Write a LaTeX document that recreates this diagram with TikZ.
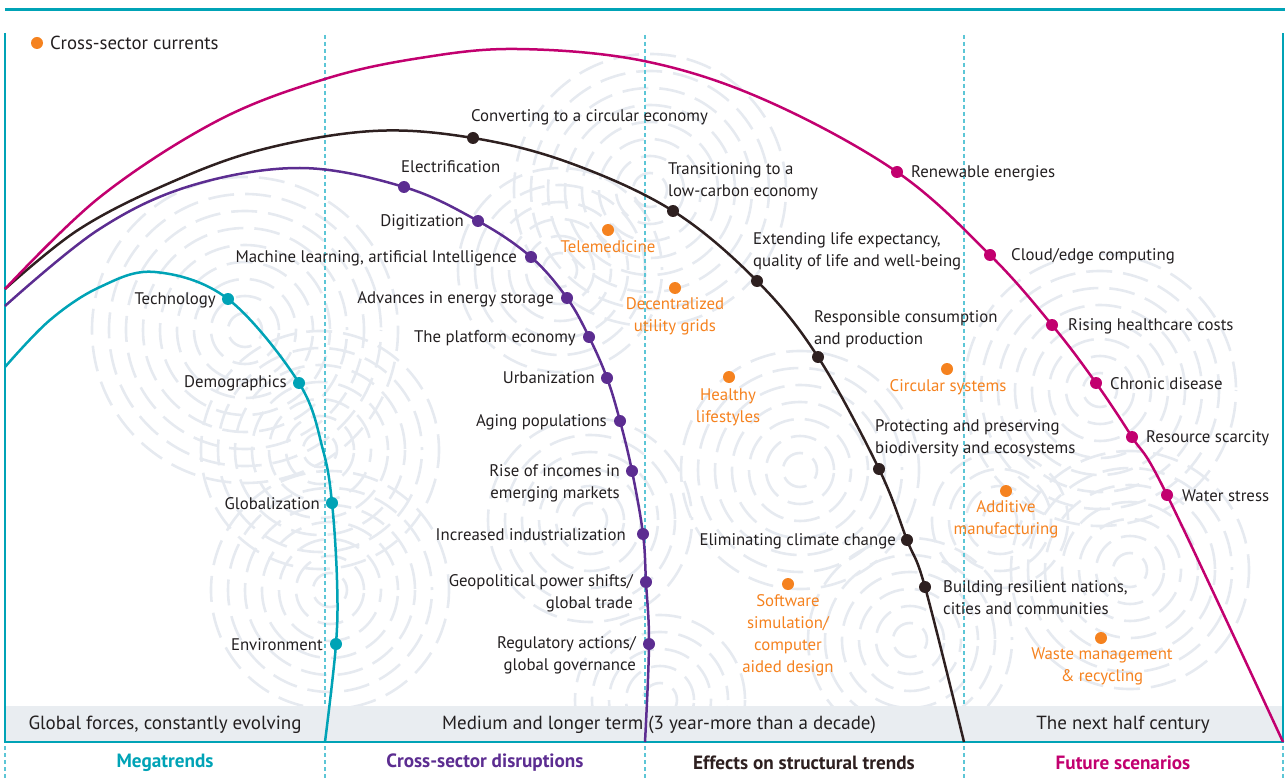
\documentclass[tikz,border=0pt]{standalone}
\usepackage{fontspec}
\setmainfont{PT Sans}
\definecolor{megateal}{HTML}{00A3B6}
\definecolor{disrpurple}{HTML}{5C2D91}
\definecolor{structdark}{HTML}{2E2020}
\definecolor{futuremag}{HTML}{C2006F}
\definecolor{currorange}{HTML}{F5821F}
\definecolor{labelgray}{HTML}{231F20}
\definecolor{bandgray}{HTML}{E9EDF1}
\definecolor{printgray}{HTML}{E6EAF0}
\definecolor{divcyan}{HTML}{5CC6D6}
\tikzset{
  lbl/.style={font=\fontsize{16.8}{22}\selectfont, text=labelgray, inner sep=0pt},
  currlbl/.style={lbl, text=currorange, align=center},
  dotmark/.style={circle, fill=#1, inner sep=0pt, minimum size=12pt},
  trend/.style={line width=2.5pt, #1},
  fprint/.style={printgray, line width=2.6pt, dash pattern=on 26pt off 11pt},
  divider/.style={divcyan, line width=1.2pt, dash pattern=on 4pt off 3pt},
  headlbl/.style={font=\fontsize{19.2}{22}\selectfont\bfseries, inner sep=0pt},
  bandlbl/.style={font=\fontsize{19}{22}\selectfont, text=labelgray, inner sep=0pt}
}
\begin{document}
\begin{tikzpicture}[x=1pt, y=-1pt]
\useasboundingbox (0,0) rectangle (1285,778);
% Huellas de fondo
\begin{scope}
  \clip (5,12) rectangle (1283,706);
  \foreach \cx/\cy/\n in {245/330/9, 320/450/7, 330/590/7, 650/190/8, 560/270/6, 590/520/6, 800/470/7, 910/640/6, 1100/390/8, 1130/570/7, 660/700/5, 1000/520/4} {
    \foreach \i in {1,...,\n} {
      \pgfmathsetmacro{\ph}{mod(\i*17,37)}
      \draw[fprint, dash phase=\ph pt] (\cx,\cy) circle[radius=\i*17];
    }
  }
\end{scope}
% Marco y banda inferior
\fill[bandgray] (5,706) rectangle (1283,742);
\draw[megateal, line width=3pt] (5,10) -- (1285,10);
\draw[megateal, line width=2.5pt] (5,33) -- (5,742) -- (1283,742) -- (1283,33);
% Divisiones
\foreach \x in {325,645,964} \draw[divider] (\x,35) -- (\x,706);
\foreach \x in {5,325,645,964,1283} \draw[divider] (\x,746) -- (\x,778);
% Leyenda
\node[dotmark=currorange] (legdot) at (37,43) {};
\node[lbl, font=\fontsize{18.8}{22}\selectfont, anchor=west] (legtxt) at (50,43) {Cross-sector currents};
% Megatrends
\node[dotmark=megateal] (tech) at (228,299) {};
\node[dotmark=megateal] (demo) at (299,383) {};
\node[dotmark=megateal] (glob) at (332,503) {};
\node[dotmark=megateal] (envi) at (336,644) {};
\draw[trend=megateal] plot[smooth, tension=0.6] coordinates {(5,367) (50,320) (100,287) (155,272) (tech.center) (demo.center) (323,450) (glob.center) (337,580) (envi.center) (325,742)};
\node[lbl, anchor=east] at (216,300) {Technology};
\node[lbl, anchor=east] at (287,383) {Demographics};
\node[lbl, anchor=east] at (320,504) {Globalization};
\node[lbl, anchor=east] at (323,645) {Environment};
% Cross-sector disruptions
\node[dotmark=disrpurple] (elec) at (404,187) {};
\node[dotmark=disrpurple] (digi) at (478,221) {};
\node[dotmark=disrpurple] (mlai) at (531,257) {};
\node[dotmark=disrpurple] (stor) at (567,298) {};
\node[dotmark=disrpurple] (plat) at (589,337) {};
\node[dotmark=disrpurple] (urba) at (607,378) {};
\node[dotmark=disrpurple] (agin) at (620,421) {};
\node[dotmark=disrpurple] (inco) at (632,471) {};
\node[dotmark=disrpurple] (indu) at (643,534) {};
\node[dotmark=disrpurple] (geop) at (646,582) {};
\node[dotmark=disrpurple] (regu) at (649,644) {};
\draw[trend=disrpurple] plot[smooth, tension=0.6] coordinates {(5,306) (98,230) (190,186) (300,168) (elec.center) (digi.center) (mlai.center) (stor.center) (plat.center) (urba.center) (agin.center) (inco.center) (indu.center) (geop.center) (regu.center) (645,742)};
\node[lbl, anchor=west] at (401,167) {Electrification};
\node[lbl, anchor=east] at (464,222) {Digitization};
\node[lbl, anchor=east] at (517,258) {Machine learning, artificial Intelligence};
\node[lbl, anchor=east] at (554,299) {Advances in energy storage};
\node[lbl, anchor=east] at (576,338) {The platform economy};
\node[lbl, anchor=east] at (595,378) {Urbanization};
\node[lbl, anchor=east] at (607,422) {Aging populations};
\node[lbl, anchor=east, align=right] at (620,483) {Rise of incomes in\\emerging markets};
\node[lbl, anchor=east] at (626,535) {Increased industrialization};
\node[lbl, anchor=east, align=right] at (633,593) {Geopolitical power shifts/\\global trade};
\node[lbl, anchor=east, align=right] at (636,655) {Regulatory actions/\\global governance};
% Effects on structural trends
\node[dotmark=structdark] (circ) at (473,138) {};
\node[dotmark=structdark] (lowc) at (673,211) {};
\node[dotmark=structdark] (life) at (757,281) {};
\node[dotmark=structdark] (resp) at (818,357) {};
\node[dotmark=structdark] (biod) at (879,469) {};
\node[dotmark=structdark] (clim) at (907,540) {};
\node[dotmark=structdark] (resi) at (925,587) {};
\draw[trend=structdark] plot[smooth, tension=0.6] coordinates {(5,289) (78,230) (165,185) (260,150) (373,131) (circ.center) (570,163) (lowc.center) (life.center) (resp.center) (biod.center) (clim.center) (resi.center) (964,742)};
\node[lbl, anchor=west] at (471,117) {Converting to a circular economy};
\node[lbl, anchor=west, align=left] at (668,181) {Transitioning to a\\low-carbon economy};
\node[lbl, anchor=west, align=left] at (753,251) {Extending life expectancy,\\quality of life and well-being};
\node[lbl, anchor=west, align=left] at (814,329) {Responsible consumption\\and production};
\node[lbl, anchor=west, align=left] at (875,438) {Protecting and preserving\\biodiversity and ecosystems};
\node[lbl, anchor=east] at (896,541) {Eliminating climate change};
\node[lbl, anchor=west, align=left] at (943,598) {Building resilient nations,\\cities and communities};
% Future scenarios
\node[dotmark=futuremag] (rene) at (897,172) {};
\node[dotmark=futuremag] (clou) at (990,255) {};
\node[dotmark=futuremag] (heal) at (1052,325) {};
\node[dotmark=futuremag] (chro) at (1096,383) {};
\node[dotmark=futuremag] (reso) at (1132,437) {};
\node[dotmark=futuremag] (wate) at (1167,495) {};
\draw[trend=futuremag] plot[smooth, tension=0.6] coordinates {(5,289) (100,197) (217,121) (325,79) (420,58) (517,49) (644,61) (765,100) (rene.center) (clou.center) (heal.center) (chro.center) (reso.center) (wate.center) (1283,742)};
\node[lbl, anchor=west] at (911,173) {Renewable energies};
\node[lbl, anchor=west] at (1011,256) {Cloud/edge computing};
\node[lbl, anchor=west] at (1068,326) {Rising healthcare costs};
\node[lbl, anchor=west] at (1110,384) {Chronic disease};
\node[lbl, anchor=west] at (1146,438) {Resource scarcity};
\node[lbl, anchor=west] at (1182,496) {Water stress};
% Cross-sector currents
\node[dotmark=currorange] (tele) at (608,230) {};
\node[dotmark=currorange] (grid) at (675,288) {};
\node[dotmark=currorange] (heli) at (729,377) {};
\node[dotmark=currorange] (csys) at (947,369) {};
\node[dotmark=currorange] (addi) at (1006,491) {};
\node[dotmark=currorange] (soft) at (788,584) {};
\node[dotmark=currorange] (wast) at (1101,638) {};
\node[currlbl] at (608,247) {Telemedicine};
\node[currlbl] at (675,316) {Decentralized\\utility grids};
\node[currlbl] at (728,407) {Healthy\\lifestyles};
\node[currlbl] at (948,387) {Circular systems};
\node[currlbl] at (1006,519) {Additive\\manufacturing};
\node[currlbl] at (788,635) {Software\\simulation/\\computer\\aided design};
\node[currlbl] at (1102,666) {Waste management\\\& recycling};
% Horizontes
\node[bandlbl] at (165,725) {Global forces, constantly evolving};
\node[bandlbl] at (659,725) {Medium and longer term (3 year-more than a decade)};
\node[bandlbl] at (1123,725) {The next half century};
\node[headlbl, text=megateal] at (165,763) {Megatrends};
\node[headlbl, text=disrpurple] at (485,763) {Cross-sector disruptions};
\node[headlbl, text=structdark] at (804,763) {Effects on structural trends};
\node[headlbl, text=futuremag] at (1123,763) {Future scenarios};
\end{tikzpicture}
\end{document}
